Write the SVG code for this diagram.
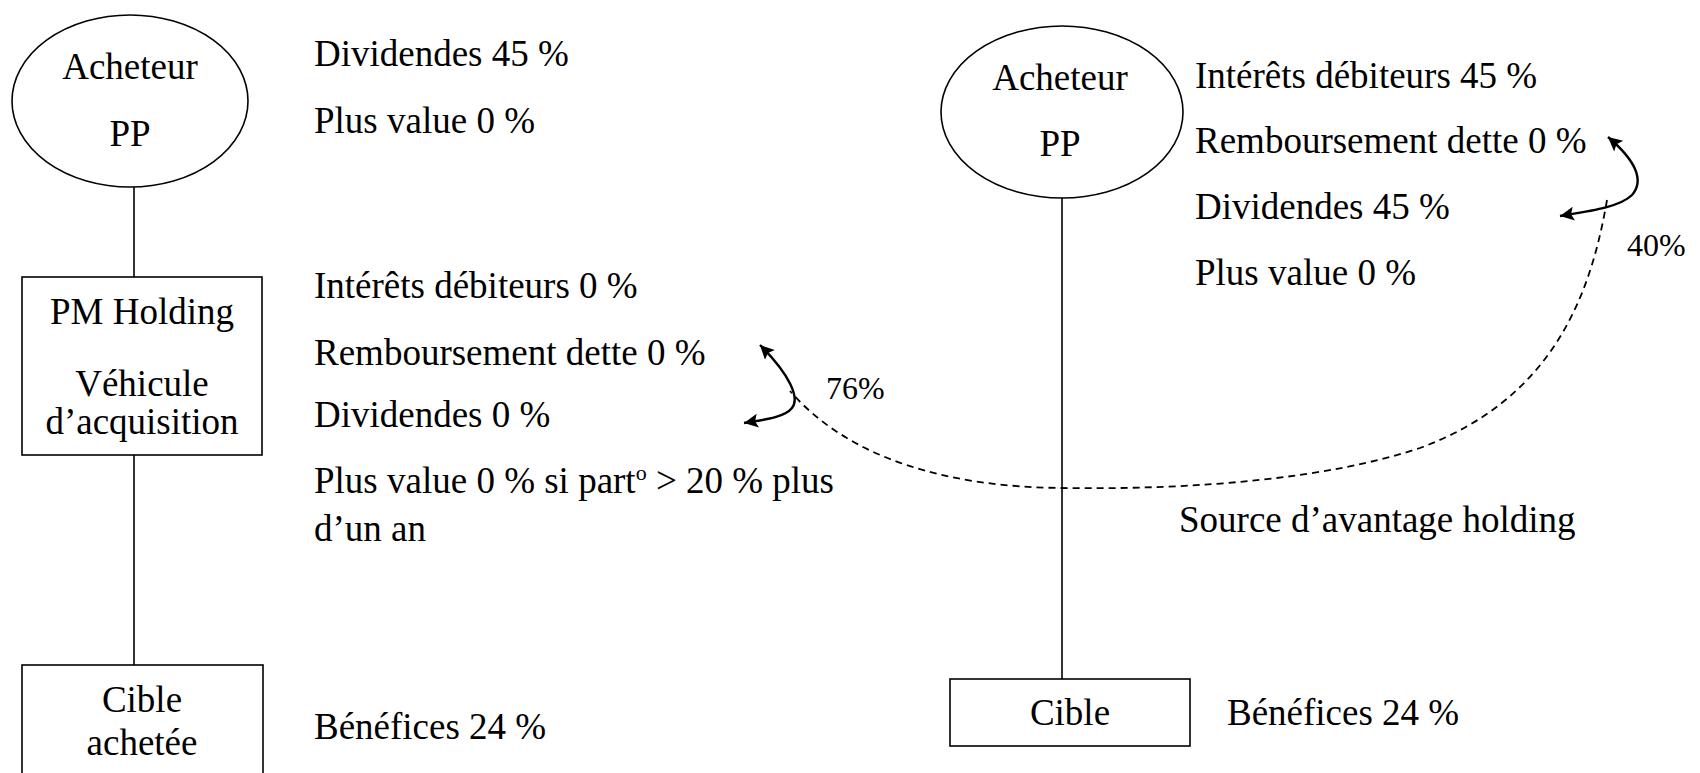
<svg xmlns="http://www.w3.org/2000/svg" width="1700" height="773" viewBox="0 0 1700 773">
  <style>
    .shape { fill: none; stroke: #000; stroke-width: 1.6; }
    .lbl { font-family: "Liberation Serif", "Times New Roman", serif; font-size: 37px; fill: #000; }
    .mid { text-anchor: middle; }
    .pct { font-family: "Liberation Serif", "Times New Roman", serif; font-size: 32px; fill: #000; }
    .link { fill: none; stroke: #000; stroke-width: 1.6; }
    .flow { fill: none; stroke: #000; stroke-width: 2.4; }
    .dash { fill: none; stroke: #000; stroke-width: 1.8; stroke-dasharray: 7 5; }
  </style>
  <defs>
    <marker id="head" viewBox="0 0 10 10" refX="10" refY="5" markerUnits="userSpaceOnUse" markerWidth="18" markerHeight="14" orient="auto-start-reverse">
      <path d="M0,0 L10,5 L0,10 L2,5 z" fill="#000"/>
    </marker>
  </defs>

  <rect width="1700" height="773" fill="#fff"/>

  <!-- connectors -->
  <g id="connectors">
    <line class="link" x1="134" y1="187" x2="134" y2="277"/>
    <line class="link" x1="134" y1="455" x2="134" y2="665"/>
    <line class="link" x1="1062" y1="198" x2="1062" y2="679"/>
    <!-- holding advantage flow -->
    <path class="dash" d="M1607,200 C1590,300 1550,400 1420,448 C1330,478 1200,490 1062,488 C950,487 850,460 790,391"/>
    <path class="flow" d="M760,345 C790,375 800,398 792,408 C784,418 762,420 744,423" marker-start="url(#head)" marker-end="url(#head)"/>
    <path class="flow" d="M1608,137 C1635,160 1645,180 1632,195 C1620,207 1590,211 1560,216" marker-start="url(#head)" marker-end="url(#head)"/>
  </g>

  <!-- left structure -->
  <g id="acheteur-left">
    <ellipse class="shape" cx="130" cy="101" rx="118" ry="86"/>
    <text class="lbl mid" x="130" y="79">Acheteur</text>
    <text class="lbl mid" x="130" y="146">PP</text>
  </g>
  <g id="holding">
    <rect class="shape" x="22" y="277" width="240" height="178"/>
    <text class="lbl mid" x="142" y="324">PM Holding</text>
    <text class="lbl mid" x="142" y="396">Véhicule</text>
    <text class="lbl mid" x="142" y="434">d’acquisition</text>
  </g>
  <g id="cible-left">
    <rect class="shape" x="22" y="665" width="241" height="120"/>
    <text class="lbl mid" x="142" y="712">Cible</text>
    <text class="lbl mid" x="142" y="755">achetée</text>
  </g>
  <g id="notes-left">
    <text class="lbl" x="314" y="66">Dividendes 45 %</text>
    <text class="lbl" x="314" y="133">Plus value 0 %</text>
    <text class="lbl" x="314" y="298">Intérêts débiteurs 0 %</text>
    <text class="lbl" x="314" y="365">Remboursement dette 0 %</text>
    <text class="lbl" x="314" y="427">Dividendes 0 %</text>
    <text class="lbl" x="314" y="493">Plus value 0 % si part<tspan font-size="22" dy="-13">o</tspan><tspan dy="13"> &gt; 20 % plus</tspan></text>
    <text class="lbl" x="314" y="541">d’un an</text>
    <text class="lbl" x="314" y="739">Bénéfices 24 %</text>
    <text class="pct" x="826" y="399">76%</text>
  </g>

  <!-- right structure -->
  <g id="acheteur-right">
    <ellipse class="shape" cx="1062" cy="112" rx="121" ry="86"/>
    <text class="lbl mid" x="1060" y="90">Acheteur</text>
    <text class="lbl mid" x="1060" y="156">PP</text>
  </g>
  <g id="cible-right">
    <rect class="shape" x="950" y="679" width="240" height="67"/>
    <text class="lbl mid" x="1070" y="725">Cible</text>
  </g>
  <g id="notes-right">
    <text class="lbl" x="1195" y="88">Intérêts débiteurs 45 %</text>
    <text class="lbl" x="1195" y="153">Remboursement dette 0 %</text>
    <text class="lbl" x="1195" y="219">Dividendes 45 %</text>
    <text class="lbl" x="1195" y="285">Plus value 0 %</text>
    <text class="lbl" x="1227" y="725">Bénéfices 24 %</text>
    <text class="lbl" x="1179" y="532">Source d’avantage holding</text>
    <text class="pct" x="1627" y="256">40%</text>
  </g>
</svg>
